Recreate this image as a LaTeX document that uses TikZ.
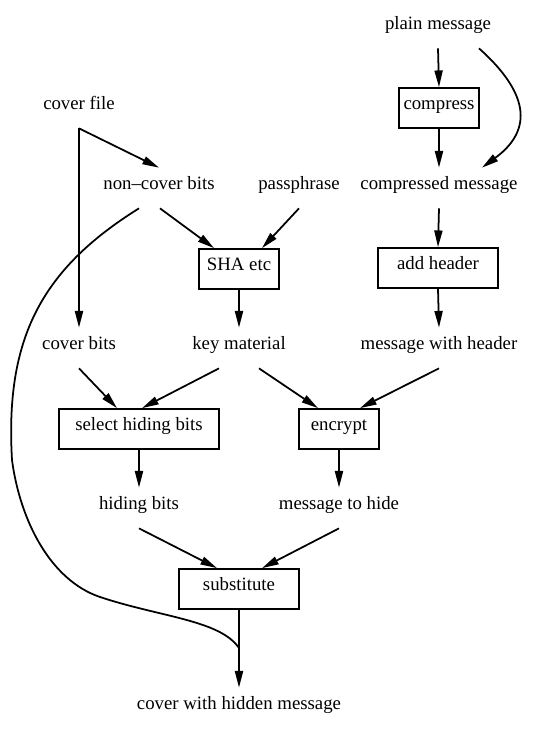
\documentclass[tikz,border=0pt]{standalone}
\usepackage{fontspec}
\setmainfont{Liberation Serif}
\usetikzlibrary{arrows.meta, calc}

\begin{document}
\begin{tikzpicture}[x=0.02cm, y=-0.02cm,
  data/.style={inner sep=0pt, minimum height=0.8cm, text height=6pt, text depth=4pt, font=\fontsize{10.7}{13}\selectfont},
  proc/.style={data, draw, line width=1pt},
  flow/.style={line width=1pt, -{Triangle[length=9.5pt,width=4.6pt]}}]
\useasboundingbox (0,0) rectangle (551,741);

% Message branch
\node[data] (pm) at (438,28) {plain message};
\node[proc, minimum width=1.6cm] (comp) at (439,108) {compress};
\node[data] (cm) at (439,188) {compressed message};
\node[proc, minimum width=2.4cm] (ah) at (438,268) {add header};
\node[data] (mwh) at (439,348) {message with header};

% Cover branch
\node[data] (cf) at (79,108) {cover file};
\node[data] (ncb) at (159,188) {non{\textendash}cover bits};
\node[data] (pp) at (299,188) {passphrase};
\node[proc, minimum width=1.6cm] (sha) at (239,269) {SHA etc};
\node[data] (cb) at (79,348) {cover bits};
\node[data] (km) at (239,348) {key material};

% Hiding
\node[proc, minimum width=3.2cm] (shb) at (139,429) {select hiding bits};
\node[proc, minimum width=1.6cm] (enc) at (339,429) {encrypt};
\node[data] (hb) at (139,508) {hiding bits};
\node[data] (mth) at (339,508) {message to hide};
\node[proc, minimum width=2.4cm] (sub) at (239,589) {substitute};
\node[data] (cwh) at (239,708) {cover with hidden message};
\coordinate (join) at (239,648);

% Edges
\draw[flow] (pm.south) -- (comp.north);
\draw[flow] ($(pm.south)+(41,0)$) .. controls (520,85) and (540,125) .. ($(cm.north)+(43,0)$);
\draw[flow] (comp.south) -- (cm.north);
\draw[flow] (cm.south) -- (ah.north);
\draw[flow] (ah.south) -- (mwh.north);

\draw[flow] (cf.south) -- (ncb.north);
\draw[flow] (cf.south) -- (cb.north);
\draw[flow] ($(ncb.south)+(1,0)$) -- ($(sha.north)+(-25,0)$);
\draw[flow] (pp.south) -- ($(sha.north)+(23,0)$);
\draw[flow] (sha.south) -- (km.north);

\draw[flow] (cb.south) -- ($(shb.north)+(-22,0)$);
\draw[flow] ($(km.south)+(-20,0)$) -- ($(shb.north)+(3,0)$);
\draw[flow] ($(km.south)+(20,0)$) -- ($(enc.north)+(-21,0)$);
\draw[flow] (mwh.south) -- ($(enc.north)+(21,0)$);

\draw[flow] (shb.south) -- (hb.north);
\draw[flow] (enc.south) -- (mth.north);
\draw[flow] (hb.south) -- ($(sub.north)+(-22,0)$);
\draw[flow] (mth.south) -- ($(sub.north)+(23,0)$);
\draw[flow] (sub.south) -- (cwh.north);

% Non-cover bits rejoin
\draw[line width=1pt] ($(ncb.south)+(-20,0)$) .. controls (40,270) and (5,340) .. (12,460)
  .. controls (20,520) and (50,580) .. (100,597)
  .. controls (160,617) and (220,620) .. (join);

\end{tikzpicture}
\end{document}
